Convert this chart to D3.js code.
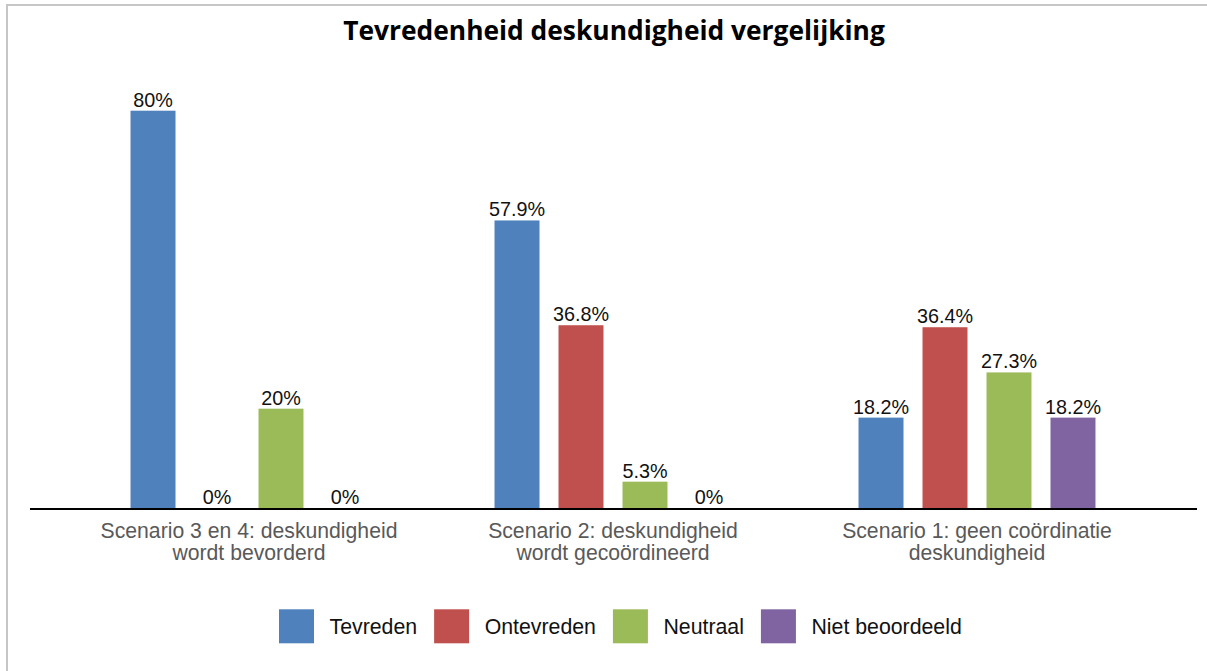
<!DOCTYPE html>
<html>
<head>
<meta charset="utf-8">
<script src="https://cdn.jsdelivr.net/npm/d3@7"></script>
<style>
  html, body { margin: 0; padding: 0; background: #ffffff; }
  svg { display: block; }
</style>
</head>
<body>
<svg id="chart" width="1207" height="671"></svg>
<script>
const title = "Tevredenheid deskundigheid vergelijking";
const categories = [
  ["Scenario 3 en 4: deskundigheid", "wordt bevorderd"],
  ["Scenario 2: deskundigheid", "wordt gecoördineerd"],
  ["Scenario 1: geen coördinatie", "deskundigheid"]
];
const seriesNames = ["Tevreden", "Ontevreden", "Neutraal", "Niet beoordeeld"];
const seriesColors = ["#4f81bd", "#c0504d", "#9bbb59", "#8064a2"];
const tevreden = [80, 57.9, 18.2];
const ontevreden = [0, 36.8, 36.4];
const neutraal = [20, 5.3, 27.3];
const nietBeoordeeld = [0, 0, 18.2];
const valueLabels = [
  ["80%", "0%", "20%", "0%"],
  ["57.9%", "36.8%", "5.3%", "0%"],
  ["18.2%", "36.4%", "27.3%", "18.2%"]
];

const seriesValues = [tevreden, ontevreden, neutraal, nietBeoordeeld];
const catKeys = categories.map(c => c.join(" "));

const svg = d3.select("#chart");

// outer border
svg.append("rect")
  .attr("x", 7).attr("y", 5)
  .attr("width", 1300).attr("height", 800)
  .attr("fill", "none").attr("stroke", "#c6c6c6").attr("stroke-width", 2);

// title
const t = svg.append("text")
  .attr("x", 614).attr("y", 40)
  .attr("text-anchor", "middle")
  .attr("font-family", "'Open Sans', 'DejaVu Sans', sans-serif")
  .attr("font-weight", "bold")
  .attr("font-size", 26)
  .attr("fill", "#000")
  .text(title);
const tw = t.node().getComputedTextLength();
t.attr("font-size", 26 * 542 / tw);

// scales
const x0 = d3.scaleBand().domain(catKeys).range([67, 1159])
  .paddingInner(0.349).paddingOuter(0.1745);
const x1 = d3.scaleBand().domain(seriesNames).range([0, x0.bandwidth()])
  .paddingInner(0.297).paddingOuter(0);
const y = d3.scaleLinear().domain([0, 80]).range([508, 110.7]);

const data = [];
catKeys.forEach((c, i) => {
  seriesNames.forEach((s, j) => {
    data.push({cat: c, ser: s, v: seriesValues[j][i], label: valueLabels[i][j], color: seriesColors[j]});
  });
});

svg.append("g").selectAll("rect").data(data).join("rect")
  .attr("x", d => x0(d.cat) + x1(d.ser))
  .attr("y", d => y(d.v))
  .attr("width", x1.bandwidth())
  .attr("height", d => y(0) - y(d.v))
  .attr("fill", d => d.color);

svg.append("g").selectAll("text").data(data).join("text")
  .attr("x", d => x0(d.cat) + x1(d.ser) + x1.bandwidth() / 2)
  .attr("y", d => y(d.v) - 4)
  .attr("text-anchor", "middle")
  .attr("font-family", "'Liberation Sans', Arial, sans-serif")
  .attr("font-size", 19.8)
  .attr("fill", "#111")
  .text(d => d.label);

// axis line
svg.append("line")
  .attr("x1", 30).attr("x2", 1197)
  .attr("y1", y(0) + 1).attr("y2", y(0) + 1)
  .attr("stroke", "#000").attr("stroke-width", 2.2);

// category labels
const cl = svg.append("g").selectAll("text").data(categories).join("text")
  .attr("text-anchor", "middle")
  .attr("font-family", "'Liberation Sans', Arial, sans-serif")
  .attr("font-size", 21.2)
  .attr("fill", "#595959");
cl.each(function(d, i) {
  const cx = x0(catKeys[i]) + x0.bandwidth() / 2;
  d3.select(this).selectAll("tspan").data(d).join("tspan")
    .attr("x", cx)
    .attr("y", (dd, k) => 537.5 + k * 22)
    .text(dd => dd);
});

// legend
const lg = svg.append("g");
let lx = 279;
seriesNames.forEach((s, j) => {
  lg.append("rect")
    .attr("x", lx).attr("y", 609.3)
    .attr("width", 35).attr("height", 34)
    .attr("fill", seriesColors[j]);
  const tx = lg.append("text")
    .attr("x", lx + 50.5).attr("y", 634.3)
    .attr("font-family", "'Liberation Sans', Arial, sans-serif")
    .attr("font-size", 21.3)
    .attr("fill", "#111")
    .text(s);
  lx = lx + 50.5 + tx.node().getComputedTextLength() + 17;
});
</script>
</body>
</html>
